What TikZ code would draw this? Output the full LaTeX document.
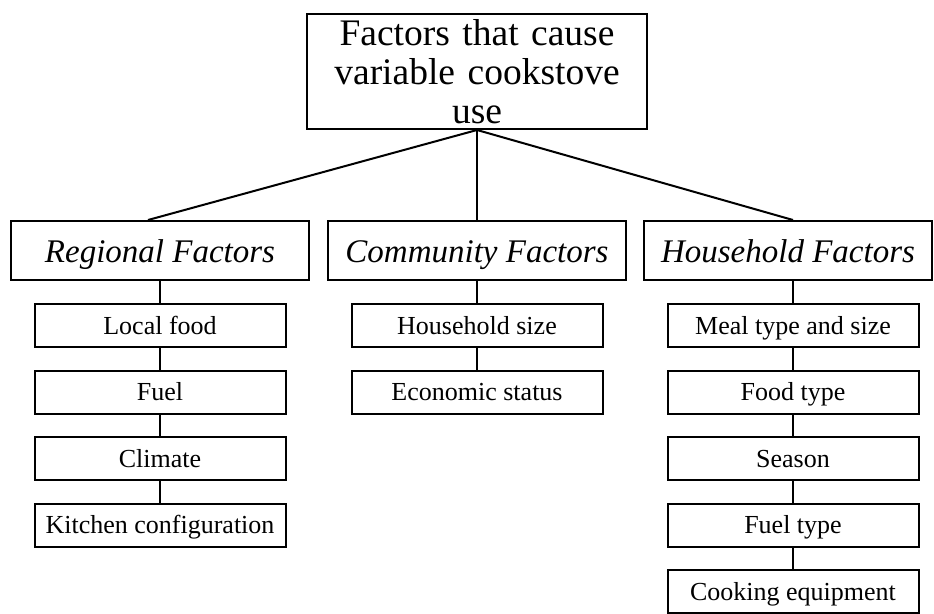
\documentclass[tikz,border=0pt]{standalone}
\usepackage{fontspec}
\setmainfont{Liberation Serif}
\usepackage{tikz}
\usetikzlibrary{positioning}

\begin{document}
\begin{tikzpicture}[x=1pt,y=-1pt]
        \useasboundingbox (0,0) rectangle (934,613);
        \begin{scope}[every node/.style={draw,line width=2pt,inner sep=0pt}]
          \node[minimum width=340pt,minimum height=115pt,text width=330pt,align=center,
                font=\fontsize{37.5}{39}\selectfont] (top) at (477,71.5)
                {Factors that cause\\variable cookstove\\use};
        \end{scope}
        \begin{scope}[every node/.style={draw,line width=2pt,inner sep=0pt,minimum height=59pt,
                      text height=30pt,text depth=7pt,font=\fontsize{33}{36}\selectfont\itshape}]
          \node[minimum width=298pt] (reg) at (160,250.5) {Regional Factors};
          \node[minimum width=298pt] (com) at (477,250.5) {Community Factors};
          \node[minimum width=288pt] (hh) at (788,250.5) {Household Factors};
        \end{scope}
        \begin{scope}[every node/.style={draw,line width=2pt,inner sep=0pt,
                      minimum width=251pt,minimum height=43pt,text height=23pt,text depth=6pt,
                      font=\fontsize{26}{28}\selectfont}]
          % regional
          \node (r1) at (160,325.5) {Local food};
          \node (r2) at (160,392) {Fuel};
          \node (r3) at (160,458.5) {Climate};
          \node (r4) at (160,525) {Kitchen configuration};
          % community
          \node (c1) at (477,325.5) {Household size};
          \node (c2) at (477,392) {Economic status};
          % household
          \node (h1) at (793,325.5) {Meal type and size};
          \node (h2) at (793,392) {Food type};
          \node (h3) at (793,458.5) {Season};
          \node (h4) at (793,525) {Fuel type};
          \node (h5) at (793,591.5) {Cooking equipment};
        \end{scope}
        \begin{scope}[every edge/.style={draw=black,line width=2pt}]
          \path (top.south) edge ([xshift=-12pt]reg.north);
          \path (top.south) edge (com.north);
          \path (top.south) edge ([xshift=5pt]hh.north);
          \path (reg) edge (r1);
          \path (r1) edge (r2);
          \path (r2) edge (r3);
          \path (r3) edge (r4);
          \path (com) edge (c1);
          \path (c1) edge (c2);
          \path ([xshift=5pt]hh.south) edge (h1);
          \path (h1) edge (h2);
          \path (h2) edge (h3);
          \path (h3) edge (h4);
          \path (h4) edge (h5);
        \end{scope}
      \end{tikzpicture}
\end{document}
